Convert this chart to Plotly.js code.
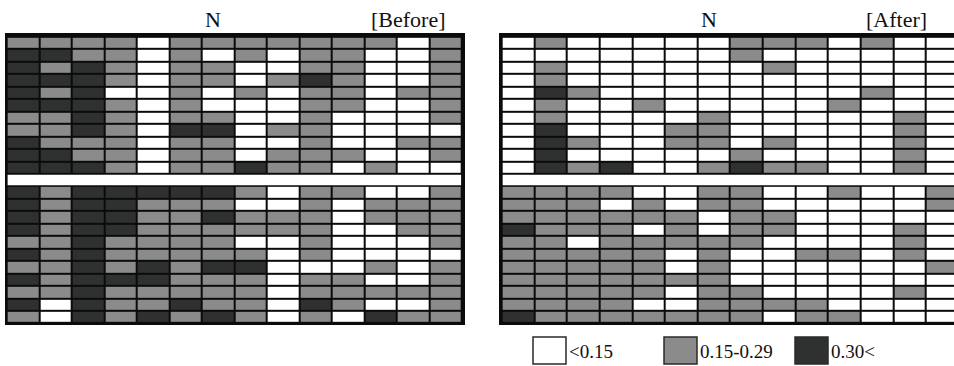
<!DOCTYPE html>
<html><head><meta charset="utf-8">
<script src="https://cdn.plot.ly/plotly-3.0.1.min.js"></script>
<style>html,body{margin:0;padding:0;background:#fff}#chart{width:954px;height:366px}</style>
</head><body><div id="chart"></div><script>
// Level codes: 0 = <0.15, 1 = 0.15-0.29, 2 = 0.30<
const levelLabels = ['<0.15', '0.15-0.29', '0.30<'];
const levelColors = ['#ffffff', '#8b8b8b', '#2f3131'];
const panelTitles = ['[Before]', '[After]'];
const axisLabel = 'N';
const columns = [0,1,2,3,4,5,6,7,8,9,10,11,12,13];

const beforeTop = [
  [1,1,1,1,0,1,1, 1,1,1,1,1,0,1],
  [2,2,1,1,0,1,0, 1,0,1,1,0,0,1],
  [2,1,2,1,0,1,1, 0,0,1,1,0,0,1],
  [2,2,2,1,0,1,1, 0,1,2,1,0,0,1],
  [2,1,2,0,0,1,0, 1,0,1,1,0,1,1],
  [2,2,2,1,0,1,0, 0,0,1,1,0,0,1],
  [1,1,2,1,0,1,1, 0,0,1,0,0,0,1],
  [1,1,2,1,0,2,2, 0,1,1,0,0,0,0],
  [2,1,1,1,0,1,1, 0,0,1,0,0,1,1],
  [2,2,1,1,0,1,1, 0,1,1,1,0,0,1],
  [2,2,2,1,0,1,1, 2,1,1,0,1,0,0]
];
const beforeBottom = [
  [2,1,2,2,2,2,2, 1,0,1,1,0,0,1],
  [2,1,2,2,1,1,1, 0,0,1,0,1,1,1],
  [2,1,2,2,1,1,2, 1,1,1,0,1,1,1],
  [2,1,2,2,1,1,1, 1,1,1,0,0,1,1],
  [1,1,2,1,1,1,1, 0,0,1,0,0,0,1],
  [2,1,2,1,1,1,1, 1,0,1,0,0,0,0],
  [1,1,2,1,2,1,2, 2,0,0,0,1,0,1],
  [2,1,2,2,2,1,1, 1,0,1,1,0,0,1],
  [1,1,2,1,1,1,1, 1,0,1,1,1,1,1],
  [2,0,2,1,1,2,1, 1,0,2,1,0,0,1],
  [1,0,2,1,2,1,2, 1,0,1,0,2,1,1]
];
const afterTop = [
  [0,1,0,0,0,0,0, 1,1,1,0,1,0,0],
  [0,0,0,0,0,0,0, 1,0,0,0,0,0,0],
  [0,1,0,0,0,0,0, 0,1,0,0,0,0,0],
  [0,1,0,0,0,0,0, 0,0,0,0,0,0,0],
  [0,2,1,0,0,0,0, 0,0,0,0,1,0,0],
  [0,1,0,0,1,0,0, 0,0,0,1,0,0,0],
  [0,1,0,0,0,0,1, 0,0,0,0,0,1,0],
  [0,2,0,0,0,1,1, 0,0,0,0,0,1,0],
  [0,2,1,0,0,1,1, 0,1,0,0,0,1,0],
  [0,2,0,0,0,0,0, 1,0,0,0,0,1,0],
  [0,2,1,2,0,0,1, 2,1,1,0,0,1,0]
];
const afterBottom = [
  [1,1,1,1,0,0,1, 1,0,0,1,0,0,1],
  [1,1,1,0,1,0,1, 1,0,0,0,0,0,1],
  [1,1,1,1,1,1,0, 1,1,0,0,0,0,0],
  [2,1,1,1,0,1,0, 1,1,0,0,0,1,0],
  [1,1,0,1,1,1,1, 1,0,0,0,0,1,0],
  [1,1,1,1,1,0,1, 0,0,1,1,0,1,0],
  [1,1,1,1,1,0,1, 0,0,0,0,0,0,1],
  [1,1,1,1,1,1,1, 0,0,0,0,0,0,0],
  [1,1,1,1,1,0,1, 1,0,0,0,0,1,0],
  [1,1,1,1,0,0,1, 1,1,1,0,0,0,0],
  [2,1,1,1,1,1,1, 1,0,1,1,0,0,0]
];

function stack(top, bottom) {
  return top.concat([columns.map(() => null)], bottom);
}
const beforeZ = stack(beforeTop, beforeBottom);
const afterZ = stack(afterTop, afterBottom);
const rows = beforeZ.map((r, i) => i);
const gapRow = beforeTop.length;

const W = 954, H = 366;
const px = v => v / W;
const py = v => 1 - v / H;
const serif = 'Liberation Serif, Times New Roman, serif';

const colorscale = [[0, levelColors[0]], [0.5, levelColors[1]], [1, levelColors[2]]];
function hm(z, xa, ya) {
  return {type: 'heatmap', x: columns, y: rows, z: z, xaxis: xa, yaxis: ya,
    colorscale: colorscale, zmin: 0, zmax: 2, showscale: false,
    xgap: 2, ygap: 2, hoverinfo: 'skip'};
}

const hidden = {visible: false, showgrid: false, zeroline: false, fixedrange: true};
const yDomain = [py(325), py(33)];
const layout = {
  width: W, height: H, margin: {l: 0, r: 0, t: 0, b: 0},
  paper_bgcolor: '#ffffff', plot_bgcolor: '#0b0b0b', showlegend: false,
  xaxis: Object.assign({}, hidden, {domain: [px(5), px(465)], range: [-0.55, 13.59], anchor: 'y'}),
  yaxis: Object.assign({}, hidden, {domain: yDomain, range: [22.64, -0.805], anchor: 'x'}),
  xaxis2: Object.assign({}, hidden, {domain: [px(499), 1], range: [-0.582, 13.36], anchor: 'y2'}),
  yaxis2: Object.assign({}, hidden, {domain: yDomain, range: [22.64, -0.805], anchor: 'x2'}),
  shapes: [
    {type: 'rect', xref: 'x', yref: 'y', x0: -0.5 + 0.03, x1: 13.5 - 0.03,
     y0: gapRow - 0.5 + 0.08, y1: gapRow + 0.5 - 0.08, fillcolor: '#ffffff', line: {width: 0}, layer: 'above'},
    {type: 'rect', xref: 'x2', yref: 'y2', x0: -0.5 + 0.03, x1: 14,
     y0: gapRow - 0.5 + 0.08, y1: gapRow + 0.5 - 0.08, fillcolor: '#ffffff', line: {width: 0}, layer: 'above'}
  ],
  annotations: [
    {text: axisLabel, xref: 'paper', yref: 'paper', x: px(213), y: py(20), xanchor: 'center', yanchor: 'middle', showarrow: false, font: {family: serif, size: 22, color: '#111'}},
    {text: panelTitles[0], xref: 'paper', yref: 'paper', x: px(448), y: py(20), xanchor: 'right', yanchor: 'middle', showarrow: false, font: {family: serif, size: 22, color: '#111'}},
    {text: axisLabel, xref: 'paper', yref: 'paper', x: px(709), y: py(20), xanchor: 'center', yanchor: 'middle', showarrow: false, font: {family: serif, size: 22, color: '#111'}},
    {text: panelTitles[1], xref: 'paper', yref: 'paper', x: px(929), y: py(20), xanchor: 'right', yanchor: 'middle', showarrow: false, font: {family: serif, size: 22, color: '#111'}}
  ]
};

const legendLeft = [533, 664, 795];
levelLabels.forEach((lab, i) => {
  layout.shapes.push({type: 'rect', xref: 'paper', yref: 'paper',
    x0: px(legendLeft[i]), x1: px(legendLeft[i] + 33), y0: py(364), y1: py(337),
    fillcolor: levelColors[i], line: {color: '#2a2a2a', width: 1.5}});
  layout.annotations.push({text: lab, xref: 'paper', yref: 'paper',
    x: px(legendLeft[i] + 34), y: py(351), xanchor: 'left', yanchor: 'middle',
    showarrow: false, font: {family: serif, size: 19, color: '#111'}});
});

Plotly.newPlot('chart', [hm(beforeZ, 'x', 'y'), hm(afterZ, 'x2', 'y2')], layout,
  {displayModeBar: false, staticPlot: true});
</script></body></html>
